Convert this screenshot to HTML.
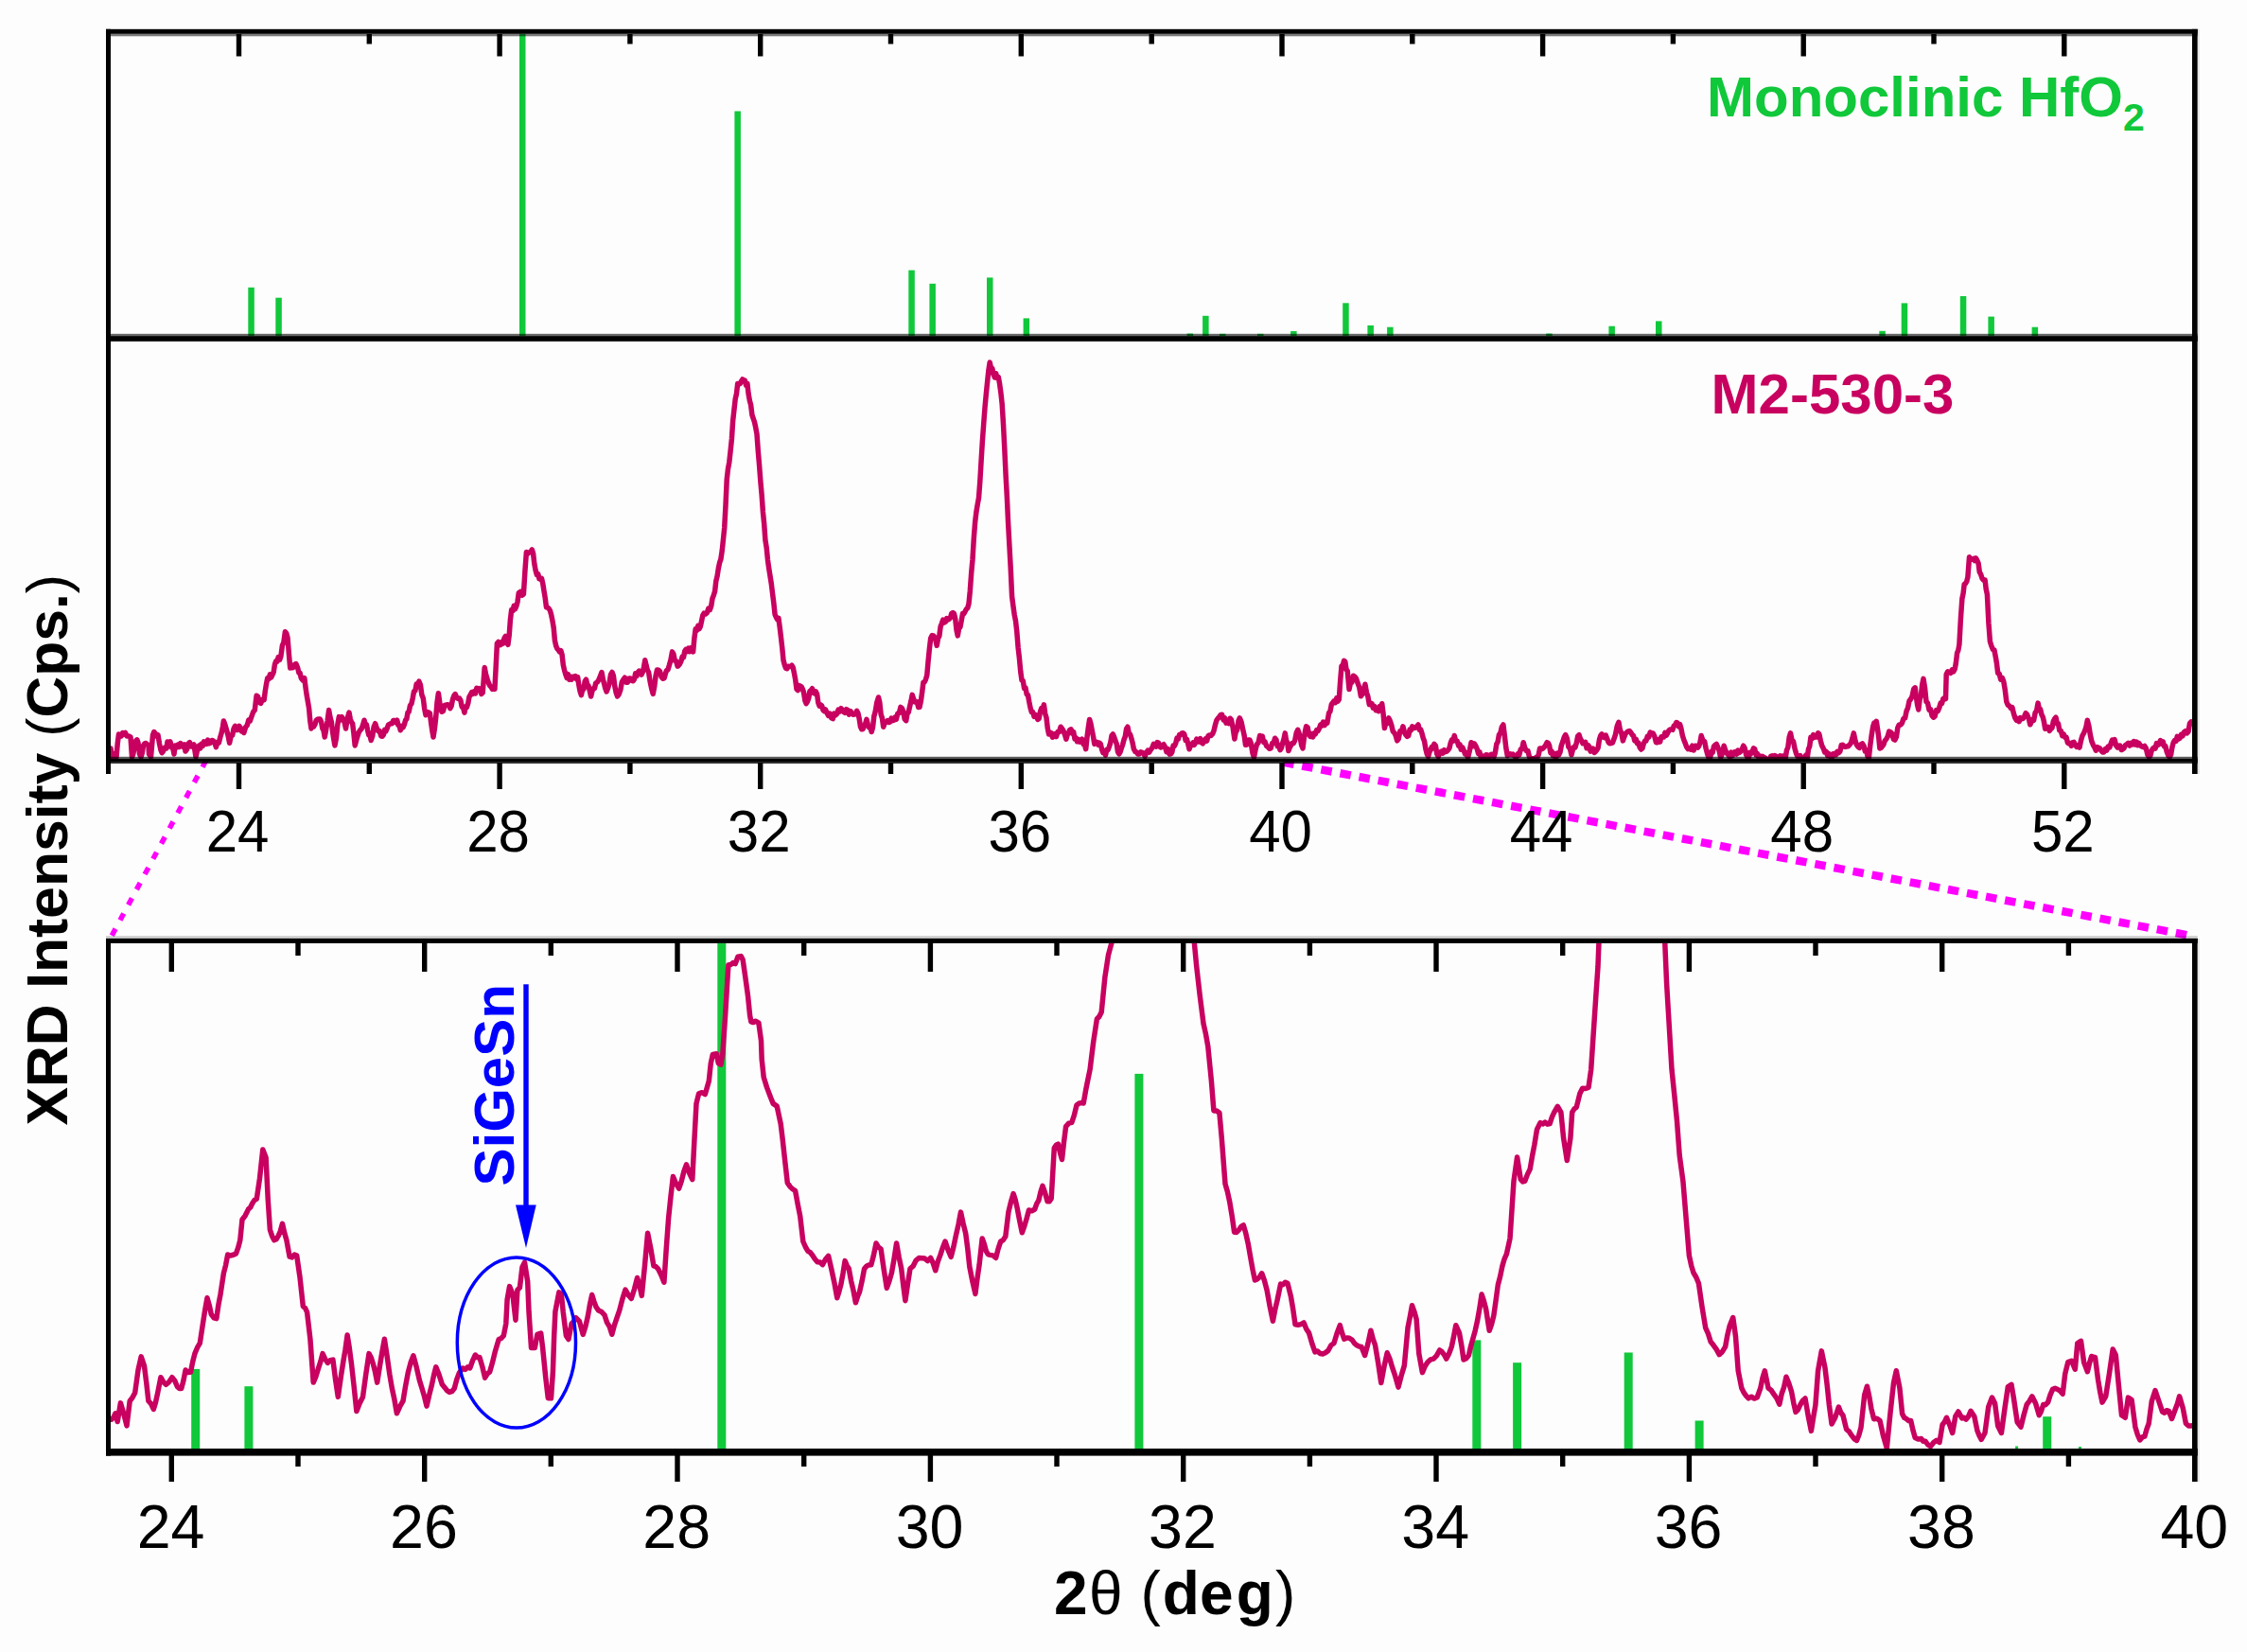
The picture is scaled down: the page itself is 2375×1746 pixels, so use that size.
<!DOCTYPE html><html><head><meta charset="utf-8"><style>html,body{margin:0;padding:0;background:#fdfdfd;overflow:hidden;}svg{display:block}</style></head><body>
<svg width="2375" height="1746" viewBox="0 0 2375 1746">
<rect width="2375" height="1746" fill="#fdfdfd"/>
<defs>
<clipPath id="cTop"><rect x="117" y="35.8" width="2200" height="319.3"/></clipPath>
<clipPath id="cMid"><rect x="117" y="360" width="2200" height="445"/></clipPath>
<clipPath id="cBot"><rect x="117" y="997" width="2200" height="534"/></clipPath>
</defs>
<g clip-path="url(#cTop)">
<rect x="262.3" y="303.8" width="6.5" height="52.2" fill="#10c83a"/>
<rect x="291.3" y="314.7" width="6.5" height="41.3" fill="#10c83a"/>
<rect x="549.0" y="24.0" width="6.5" height="332.0" fill="#10c83a"/>
<rect x="776.4" y="117.5" width="6.5" height="238.5" fill="#10c83a"/>
<rect x="960.3" y="285.6" width="6.5" height="70.4" fill="#10c83a"/>
<rect x="982.4" y="299.8" width="6.5" height="56.2" fill="#10c83a"/>
<rect x="1043.0" y="293.4" width="6.5" height="62.6" fill="#10c83a"/>
<rect x="1081.6" y="336.4" width="6.5" height="19.6" fill="#10c83a"/>
<rect x="1254.6" y="352.5" width="6.5" height="3.5" fill="#10c83a"/>
<rect x="1271.1" y="333.8" width="6.5" height="22.2" fill="#10c83a"/>
<rect x="1289.0" y="352.8" width="6.5" height="3.2" fill="#10c83a"/>
<rect x="1329.0" y="352.8" width="6.5" height="3.2" fill="#10c83a"/>
<rect x="1364.1" y="350.0" width="6.5" height="6.0" fill="#10c83a"/>
<rect x="1419.2" y="320.3" width="6.5" height="35.7" fill="#10c83a"/>
<rect x="1445.4" y="343.9" width="6.5" height="12.1" fill="#10c83a"/>
<rect x="1466.1" y="345.7" width="6.5" height="10.3" fill="#10c83a"/>
<rect x="1634.2" y="352.5" width="6.5" height="3.5" fill="#10c83a"/>
<rect x="1700.4" y="344.7" width="6.5" height="11.3" fill="#10c83a"/>
<rect x="1750.0" y="339.4" width="6.5" height="16.6" fill="#10c83a"/>
<rect x="1986.3" y="349.8" width="6.5" height="6.2" fill="#10c83a"/>
<rect x="2009.7" y="320.4" width="6.5" height="35.6" fill="#10c83a"/>
<rect x="2071.8" y="313.0" width="6.5" height="43.0" fill="#10c83a"/>
<rect x="2101.4" y="334.6" width="6.5" height="21.4" fill="#10c83a"/>
<rect x="2147.6" y="345.7" width="6.5" height="10.3" fill="#10c83a"/>
</g>
<g clip-path="url(#cBot)">
<rect x="202.2" y="1446.9" width="9.0" height="86.1" fill="#10c83a"/>
<rect x="258.4" y="1465.2" width="9.0" height="67.8" fill="#10c83a"/>
<rect x="758.3" y="978.2" width="9.0" height="554.8" fill="#10c83a"/>
<rect x="1199.4" y="1134.9" width="9.0" height="398.1" fill="#10c83a"/>
<rect x="1556.3" y="1416.4" width="9.0" height="116.6" fill="#10c83a"/>
<rect x="1599.1" y="1440.2" width="9.0" height="92.8" fill="#10c83a"/>
<rect x="1716.7" y="1429.5" width="9.0" height="103.5" fill="#10c83a"/>
<rect x="1791.6" y="1501.5" width="9.0" height="31.5" fill="#10c83a"/>
<rect x="2130.1" y="1528.5" width="3.0" height="4.5" fill="#10c83a"/>
<rect x="2159.2" y="1497.2" width="9.0" height="35.8" fill="#10c83a"/>
<rect x="2196.9" y="1529.0" width="3.0" height="4.0" fill="#10c83a"/>
</g>
<g clip-path="url(#cMid)"><polyline points="117.0,791.0 118.5,800.0 119.8,796.5 121.0,797.0 123.0,800.0 124.2,786.4 125.5,776.0 126.9,778.3 128.2,778.1 129.6,774.6 131.0,776.0 132.5,774.5 134.0,778.0 136.0,778.0 138.0,779.0 139.5,800.0 140.8,796.9 142.0,790.0 143.5,783.0 144.8,781.8 146.0,785.0 147.5,797.0 149.0,800.0 150.2,796.2 151.5,788.0 152.9,785.9 154.2,785.5 155.6,786.7 157.0,788.0 157.5,797.0 159.5,800.0 161.5,777.0 162.8,773.5 164.0,775.0 165.5,778.2 167.0,777.0 168.5,786.0 170.0,793.0 171.2,795.7 172.5,794.0 174.2,790.2 176.0,791.0 177.0,784.0 178.5,786.0 180.0,784.0 181.3,789.9 182.7,790.4 184.0,797.0 185.0,788.0 186.5,790.0 188.0,787.0 189.4,789.4 190.8,785.5 192.2,788.5 193.6,789.5 195.0,787.0 196.0,794.0 197.5,792.0 199.0,786.0 200.5,784.6 202.0,788.9 203.5,788.8 205.0,787.0 207.0,800.0 209.0,791.0 210.3,788.1 211.6,790.9 212.9,786.3 214.2,788.5 215.5,783.9 216.8,785.2 218.2,786.4 219.6,782.2 221.1,785.8 222.5,785.2 223.9,782.5 225.4,782.9 226.9,784.9 228.4,789.6 229.9,784.2 231.3,785.1 232.8,779.0 234.0,775.2 235.2,769.8 236.4,762.0 237.9,766.0 239.5,771.6 241.1,777.5 242.6,785.2 244.1,778.2 245.6,777.1 247.1,770.0 248.5,767.3 249.9,771.6 251.4,771.4 252.8,767.4 254.2,769.2 255.4,772.9 256.6,770.4 257.8,774.5 259.6,768.5 261.3,766.5 262.8,761.1 264.3,761.9 265.8,757.6 267.6,752.6 269.3,750.5 271.1,735.3 272.6,736.1 274.1,742.3 275.6,743.4 277.4,739.3 279.1,739.8 280.3,730.4 281.5,722.9 282.7,716.7 284.0,717.8 285.4,712.7 286.7,715.9 288.0,713.1 289.2,710.3 290.4,702.3 291.6,698.9 292.9,699.3 294.2,694.6 295.6,697.3 296.9,693.5 298.4,682.3 299.9,678.7 301.4,667.7 302.7,669.2 304.0,673.9 305.4,691.4 306.7,706.0 308.2,702.9 309.7,705.6 311.2,702.4 312.9,701.6 314.7,706.0 315.9,711.2 317.1,711.3 318.3,716.7 320.1,718.9 321.8,716.7 323.0,726.4 324.2,734.8 325.4,741.6 326.6,748.6 327.8,761.9 329.0,770.0 330.3,766.1 331.6,767.9 333.0,765.4 334.3,761.2 335.6,760.3 337.0,760.0 338.3,760.0 339.6,763.0 340.8,769.9 342.0,771.9 343.2,779.0 344.7,770.9 346.1,762.1 347.6,750.5 349.0,758.2 350.3,763.0 351.5,773.0 352.7,780.9 353.9,787.9 355.4,780.3 356.8,766.2 358.3,757.6 359.8,760.9 361.3,757.7 362.8,760.3 364.1,763.5 365.5,770.0 367.2,759.2 369.0,753.1 370.2,759.5 371.4,763.1 372.6,764.7 373.9,774.9 375.2,787.9 376.6,782.5 377.9,778.3 379.2,774.2 380.6,771.8 382.1,770.3 383.5,766.5 385.0,761.2 386.2,766.2 387.4,765.8 388.6,771.8 389.8,776.8 391.0,777.2 392.2,782.5 393.7,778.0 395.1,768.3 396.6,764.7 398.2,769.5 399.7,772.7 401.2,772.6 402.8,778.0 404.1,778.2 405.3,776.8 406.6,771.3 407.8,773.0 409.1,770.0 410.4,766.3 411.8,765.3 413.1,764.6 414.4,764.7 415.7,761.5 417.0,761.4 418.4,763.6 419.7,761.2 420.9,766.3 422.1,766.8 423.3,771.8 424.6,767.3 426.0,768.8 427.3,765.9 428.6,761.2 429.8,759.9 431.0,753.1 432.2,752.3 433.5,745.6 434.9,743.8 436.2,738.1 437.5,730.9 438.9,730.0 440.2,723.1 441.5,724.3 442.9,720.2 444.4,723.8 445.8,734.2 447.3,738.0 448.6,748.4 450.0,755.8 451.5,753.5 452.9,752.8 454.4,754.0 455.6,763.7 456.8,772.1 458.0,779.0 459.4,769.9 460.7,758.4 462.0,742.5 463.4,732.7 465.1,744.8 466.9,752.3 468.4,751.5 469.9,745.5 471.4,745.1 472.9,744.7 474.3,745.1 475.8,748.7 477.1,746.3 478.5,738.9 479.9,735.2 481.2,733.6 482.7,737.3 484.1,738.5 485.6,738.0 486.9,740.3 488.2,747.0 489.6,747.8 490.9,753.1 492.2,746.8 493.4,747.4 494.7,743.4 495.9,736.7 497.2,734.5 498.6,731.6 500.0,733.4 501.3,730.6 502.6,732.8 503.8,727.3 505.1,728.3 506.4,727.6 507.6,728.0 508.9,733.5 510.2,732.1 512.2,705.4 513.6,712.9 515.1,717.8 516.5,722.0 517.8,724.8 519.1,725.9 520.3,728.3 521.6,725.7 522.9,728.3 524.1,706.2 525.4,680.0 526.7,678.5 528.0,681.8 529.2,681.5 530.5,678.4 531.8,680.0 533.0,674.7 534.3,672.4 535.6,678.8 536.9,681.3 538.2,671.5 539.4,655.1 540.7,644.4 542.0,645.6 543.2,640.3 544.5,643.6 545.8,640.6 547.0,636.2 548.3,626.6 549.6,625.6 550.8,625.0 552.1,629.1 553.4,627.9 554.9,603.9 556.4,583.4 557.9,585.2 559.3,583.7 560.8,583.6 562.3,580.9 563.6,585.1 564.8,595.8 566.1,602.8 567.4,607.6 568.7,606.6 570.0,611.7 571.2,612.2 572.5,611.4 573.8,617.0 575.0,624.7 576.2,631.9 577.5,641.9 578.8,642.2 580.0,643.2 581.3,645.0 582.6,649.5 583.9,655.9 585.2,663.5 586.4,676.8 587.7,682.6 589.0,685.7 590.2,687.0 591.5,688.9 592.8,687.6 594.1,692.1 595.3,702.8 596.6,708.4 597.9,713.1 599.2,716.4 600.4,712.6 601.7,718.2 602.9,715.1 604.2,718.2 605.5,715.3 606.8,715.6 608.0,714.6 609.3,717.8 610.6,715.6 611.9,724.3 613.1,730.7 614.4,734.7 615.7,728.6 617.0,728.3 618.2,720.0 619.5,718.2 620.8,724.2 622.0,724.6 623.3,730.1 624.6,736.0 625.9,730.5 627.2,727.6 628.4,727.5 629.7,722.0 631.3,721.0 632.9,718.5 634.4,714.7 636.0,710.5 637.3,717.8 638.5,722.4 639.8,727.5 641.1,730.9 642.6,727.2 644.0,722.5 645.5,713.0 647.0,710.5 648.4,714.3 649.8,725.3 651.2,732.1 652.6,736.0 654.2,733.8 655.8,729.2 657.3,720.9 658.9,718.2 660.4,716.2 661.9,721.2 663.3,721.2 664.8,717.1 666.3,717.1 667.8,719.4 669.1,719.7 670.4,718.1 671.6,711.9 672.9,714.6 674.2,710.5 675.5,709.1 676.7,710.5 678.0,713.1 679.3,710.3 680.5,705.3 681.8,697.8 683.1,703.5 684.3,708.2 685.6,710.5 687.1,720.1 688.7,727.7 690.2,733.4 691.6,726.3 693.1,714.3 694.5,708.0 696.0,708.3 697.5,709.4 699.1,715.5 700.6,717.2 702.1,716.9 703.4,711.9 704.6,708.5 705.9,708.0 707.4,703.0 709.0,697.2 710.5,688.9 711.9,691.2 713.3,698.3 714.7,698.6 716.1,704.2 717.4,703.2 718.7,701.5 719.9,698.8 721.2,694.0 722.5,694.8 723.8,688.0 725.0,686.3 726.3,688.6 727.6,685.1 728.9,688.6 730.1,684.7 731.4,686.6 732.6,688.9 733.9,674.4 735.2,664.8 736.5,666.2 737.8,661.4 739.0,664.7 740.3,662.2 741.6,656.1 742.8,650.4 744.1,648.2 745.7,649.0 747.2,647.9 748.8,643.1 750.4,644.4 751.7,640.7 753.0,632.5 754.3,629.2 755.6,624.9 756.8,614.2 758.1,608.8 759.4,600.4 760.6,594.7 761.9,591.0 763.2,582.2 764.4,570.7 765.7,558.0 767.0,534.0 768.2,507.1 769.5,495.5 770.8,488.4 772.1,476.6 773.4,464.0 774.6,445.2 775.9,433.4 777.2,421.7 778.4,416.7 779.7,405.4 781.0,406.1 782.2,405.5 783.5,402.9 784.8,400.9 786.1,402.5 787.3,402.0 788.6,407.4 789.9,405.4 791.1,416.2 792.4,423.5 793.6,427.9 794.9,438.5 796.2,442.3 797.5,446.2 798.7,451.7 800.0,458.8 801.3,476.8 802.6,491.9 803.9,509.3 805.1,522.4 806.4,541.0 807.6,552.6 808.9,570.7 810.2,578.9 811.5,592.1 812.7,600.7 814.0,608.8 815.3,617.0 816.5,626.9 817.8,637.2 819.1,649.5 820.4,652.5 821.6,654.6 822.9,653.3 824.2,662.8 825.5,673.8 826.7,684.2 828.0,697.8 829.3,702.8 830.5,706.2 831.8,706.7 833.1,704.2 834.4,704.6 835.6,704.4 836.9,703.2 838.2,705.4 839.5,711.7 840.7,718.2 842.0,728.3 843.3,729.6 844.5,724.5 845.8,725.0 847.1,725.8 848.4,728.4 849.6,732.2 850.9,740.5 852.1,743.6 853.4,741.5 854.7,738.0 855.9,730.7 857.2,729.6 858.5,727.7 859.8,732.5 861.0,732.9 862.3,730.9 863.6,733.6 864.8,742.5 866.1,746.1 867.4,744.9 868.7,745.9 869.9,750.3 871.2,751.7 872.5,749.9 874.1,753.6 875.6,756.3 877.2,754.1 878.8,758.8 880.3,759.6 881.7,754.1 883.2,755.9 884.6,754.5 886.1,750.2 887.5,752.0 889.0,748.7 890.0,750.0 891.5,752.3 893.0,753.4 894.5,749.7 895.9,750.5 897.4,755.1 898.9,751.5 900.4,753.9 901.7,755.2 903.0,755.1 904.3,754.3 905.6,751.3 906.9,753.7 908.2,759.6 909.5,768.0 910.8,770.8 912.1,770.5 913.4,767.4 914.7,764.8 916.0,760.4 917.3,765.7 918.6,768.9 919.9,768.8 921.2,773.4 922.5,768.7 923.8,757.1 925.1,752.6 926.8,742.5 928.5,737.0 929.8,742.4 931.1,754.8 932.4,758.8 933.7,768.2 935.1,764.3 936.5,763.0 937.9,761.7 939.3,763.5 940.7,763.1 942.1,759.1 943.4,761.6 944.7,761.3 946.0,758.0 947.3,760.4 948.8,754.2 950.4,753.7 951.9,747.4 953.4,748.6 954.8,752.2 956.2,760.0 957.7,761.7 959.0,754.0 960.3,752.7 961.6,746.7 962.9,741.2 964.2,734.4 965.5,738.3 966.8,741.8 968.1,742.2 969.4,741.9 970.7,747.6 972.0,747.4 973.3,741.3 974.6,732.0 975.9,721.4 977.2,720.9 978.5,718.1 979.8,713.6 981.1,698.6 982.4,685.5 983.7,674.5 985.2,671.6 986.8,671.9 988.5,674.5 990.2,682.3 991.5,674.7 992.8,672.3 994.1,662.3 995.4,658.9 996.7,655.2 998.0,657.9 999.3,657.3 1000.6,653.7 1001.9,655.0 1003.2,654.3 1004.5,653.0 1005.8,648.3 1007.1,647.5 1008.4,648.5 1009.7,653.7 1011.0,665.9 1012.3,671.9 1013.6,664.0 1014.9,662.7 1016.2,656.0 1017.5,648.5 1018.8,648.7 1020.1,646.2 1021.4,643.8 1022.7,642.7 1024.0,638.1 1025.3,624.7 1026.7,605.4 1028.0,591.2 1029.3,569.1 1030.6,552.2 1031.9,541.3 1033.2,533.2 1034.5,526.2 1035.8,509.0 1037.1,487.1 1038.4,465.8 1039.7,448.1 1041.0,430.9 1042.3,416.7 1043.6,403.8 1044.9,391.4 1046.2,383.0 1047.5,389.1 1048.8,389.4 1050.1,396.0 1051.4,399.0 1052.7,394.7 1054.0,399.5 1055.3,398.6 1056.6,405.8 1057.9,415.3 1059.2,427.3 1060.5,448.5 1061.8,474.1 1063.1,502.3 1064.4,526.2 1065.7,554.7 1067.0,578.2 1068.3,602.2 1069.6,630.3 1070.9,640.4 1072.2,649.7 1073.5,656.3 1074.8,667.8 1076.1,684.2 1077.4,695.4 1078.7,709.5 1080.0,718.8 1081.3,719.6 1082.6,727.5 1083.9,726.8 1085.2,733.8 1086.5,734.4 1087.8,741.8 1089.1,748.2 1090.4,752.6 1091.7,752.6 1093.0,757.4 1094.3,755.4 1095.6,757.2 1096.9,760.4 1098.2,759.3 1099.5,752.2 1100.8,748.5 1102.1,749.6 1103.4,744.8 1104.7,754.2 1106.0,758.5 1107.3,769.8 1108.6,776.0 1109.9,774.3 1111.2,774.6 1112.5,779.3 1113.8,775.8 1115.1,776.0 1116.4,778.6 1118.0,773.4 1119.5,773.6 1121.1,768.2 1122.5,770.0 1124.0,772.5 1125.5,776.5 1126.9,781.2 1128.2,776.6 1129.5,774.4 1130.8,771.4 1132.1,770.8 1133.4,775.2 1134.7,773.7 1136.0,781.0 1137.3,779.8 1138.6,783.8 1139.9,781.5 1141.2,784.1 1142.5,783.2 1143.8,781.2 1145.1,786.5 1146.4,786.6 1147.7,791.7 1149.0,779.1 1150.3,769.1 1151.6,760.4 1152.9,764.7 1154.2,771.7 1155.5,778.2 1156.8,786.4 1158.1,784.3 1159.4,784.3 1160.7,787.2 1162.0,785.1 1163.3,786.3 1164.6,792.0 1165.9,795.4 1167.2,793.7 1168.5,798.1 1169.8,792.3 1171.1,792.6 1172.4,789.1 1173.7,785.1 1175.0,777.6 1176.3,776.0 1177.6,778.8 1178.9,782.8 1180.2,786.0 1181.5,794.6 1182.8,796.8 1184.1,794.7 1185.4,790.5 1186.7,786.8 1188.0,781.8 1189.3,778.4 1190.6,770.2 1191.9,768.2 1193.2,775.1 1194.5,776.2 1195.8,780.1 1197.1,785.1 1198.4,791.7 1199.9,794.4 1201.4,795.1 1202.8,797.0 1204.3,797.0 1205.8,794.9 1207.2,795.5 1208.7,795.9 1210.2,799.4 1211.7,795.4 1213.2,793.2 1214.8,795.0 1216.3,792.4 1217.8,790.4 1219.3,786.4 1220.6,788.0 1221.9,789.1 1223.2,784.6 1224.5,785.1 1225.8,789.3 1227.1,789.9 1228.4,787.7 1229.9,786.7 1231.4,789.3 1233.0,794.7 1234.5,791.5 1236.0,797.1 1237.5,796.8 1238.8,795.1 1240.1,788.0 1241.4,788.5 1242.7,785.6 1244.0,780.0 1245.3,781.2 1246.6,776.5 1247.9,776.6 1249.2,774.9 1250.5,774.7 1251.8,776.0 1253.1,782.4 1254.4,781.3 1255.7,785.9 1257.0,791.7 1258.3,788.2 1259.6,786.4 1260.9,785.0 1262.2,787.3 1263.5,785.1 1264.8,781.2 1266.1,783.9 1267.4,784.0 1268.7,780.6 1270.0,784.9 1271.3,785.9 1272.6,783.8 1274.1,781.0 1275.6,783.1 1277.0,777.9 1278.5,776.9 1280.0,777.5 1281.5,775.8 1283.0,772.3 1284.5,766.0 1285.9,761.3 1287.3,759.2 1288.8,757.7 1290.2,755.4 1291.6,755.3 1293.1,760.9 1294.5,758.7 1296.0,764.2 1297.3,761.1 1298.7,764.6 1300.1,759.2 1301.4,760.6 1303.2,769.3 1304.9,781.1 1306.2,773.6 1307.6,771.6 1309.0,761.9 1310.3,758.9 1312.0,762.9 1313.8,771.3 1315.2,777.7 1316.5,787.3 1318.0,787.0 1319.4,782.0 1320.9,782.0 1322.4,786.0 1323.9,795.7 1325.4,800.5 1327.0,792.4 1328.5,786.5 1330.0,785.2 1331.6,777.5 1332.9,780.6 1334.3,778.1 1335.7,784.5 1337.0,783.8 1338.5,788.2 1340.1,789.4 1341.7,791.3 1343.2,790.9 1344.7,785.4 1346.1,785.5 1347.6,780.2 1348.9,781.7 1350.3,788.8 1351.7,787.3 1353.0,792.7 1354.3,790.8 1355.7,785.4 1357.0,781.1 1358.3,774.9 1359.5,782.5 1360.7,784.8 1361.9,793.6 1363.2,790.0 1364.6,787.6 1365.9,785.5 1367.2,785.6 1368.7,782.6 1370.2,774.7 1371.7,771.3 1373.0,774.7 1374.3,779.8 1375.7,787.8 1377.0,790.9 1378.2,781.1 1379.4,773.3 1380.6,767.8 1382.1,768.8 1383.5,776.3 1385.0,778.4 1386.3,775.6 1387.7,778.9 1389.1,774.9 1390.4,775.8 1391.7,771.6 1393.1,772.3 1394.4,770.0 1395.7,766.0 1397.1,767.0 1398.5,763.2 1400.0,766.6 1401.4,763.2 1402.8,764.2 1404.6,753.5 1405.9,751.9 1407.3,744.7 1408.7,742.7 1410.0,741.0 1411.3,742.7 1412.7,737.9 1414.0,741.2 1415.3,739.3 1416.7,719.1 1418.0,703.7 1419.3,703.2 1420.6,698.3 1421.8,699.5 1423.0,707.7 1424.2,709.0 1426.0,728.6 1427.5,721.5 1428.9,721.2 1430.4,714.3 1431.9,715.1 1433.4,716.9 1434.9,721.5 1436.7,726.2 1438.4,735.7 1439.9,733.8 1441.4,729.2 1442.9,723.2 1444.4,731.8 1445.8,735.9 1447.3,744.6 1448.7,743.2 1450.0,743.6 1451.3,748.3 1452.7,746.4 1454.2,750.6 1455.6,748.5 1457.1,751.7 1458.3,746.6 1459.5,747.9 1460.7,743.7 1462.1,754.5 1463.4,769.5 1464.9,763.6 1466.3,764.4 1467.8,758.9 1469.3,762.0 1470.8,766.6 1472.3,773.1 1473.8,774.5 1475.2,777.2 1476.7,782.9 1478.2,781.0 1479.8,772.8 1481.4,773.0 1482.9,767.8 1484.4,773.7 1485.9,776.7 1487.4,778.4 1488.7,777.7 1490.1,771.1 1491.4,771.8 1492.7,767.8 1494.3,769.4 1495.8,769.2 1497.4,767.8 1499.0,766.0 1500.3,771.4 1501.7,771.1 1503.0,775.3 1504.3,780.2 1505.6,783.6 1506.9,791.6 1508.3,797.0 1509.6,799.6 1510.9,794.8 1512.1,792.4 1513.4,789.3 1514.6,790.8 1515.9,786.4 1517.4,788.3 1518.8,797.0 1520.3,799.6 1521.8,795.4 1523.4,794.1 1525.0,796.1 1526.5,792.7 1527.8,794.6 1529.2,794.2 1530.6,792.7 1531.9,790.9 1533.2,785.3 1534.6,781.8 1535.9,783.1 1537.2,777.5 1538.7,783.1 1540.2,783.2 1541.7,788.2 1543.0,786.8 1544.3,792.3 1545.7,789.9 1547.0,792.7 1548.5,796.9 1550.0,796.2 1551.5,800.5 1553.2,794.0 1555.0,784.7 1556.6,788.8 1558.2,785.9 1559.7,788.0 1561.3,791.8 1562.6,796.5 1563.9,794.8 1565.3,800.7 1566.6,800.5 1568.0,799.1 1569.4,802.1 1570.8,797.7 1572.2,797.9 1573.5,801.5 1574.9,798.3 1576.3,797.2 1577.7,797.5 1579.1,799.6 1580.4,795.4 1581.8,786.4 1583.1,784.2 1584.4,776.7 1585.9,774.7 1587.4,768.2 1588.9,766.0 1590.4,778.2 1591.8,790.3 1593.3,798.7 1594.7,797.4 1596.1,796.7 1597.6,797.4 1599.0,797.1 1600.4,798.7 1601.8,800.1 1603.1,800.0 1604.5,796.5 1605.8,797.8 1607.3,791.9 1608.7,791.6 1610.2,784.7 1611.8,790.5 1613.3,793.5 1614.9,793.4 1616.4,799.6 1617.8,802.2 1619.3,801.7 1620.7,801.7 1622.2,802.9 1623.6,800.5 1624.9,800.2 1626.2,797.8 1627.6,790.9 1628.9,790.9 1630.5,791.4 1632.0,789.9 1633.5,787.9 1635.1,784.7 1636.4,785.4 1637.6,788.0 1638.9,795.6 1640.1,793.9 1641.4,798.7 1643.0,796.3 1644.5,800.5 1646.0,796.2 1647.6,797.8 1649.0,795.0 1650.4,787.6 1651.9,783.5 1653.3,779.2 1654.7,776.7 1656.3,780.3 1657.8,789.3 1659.4,791.0 1661.0,797.8 1662.3,792.6 1663.7,789.3 1665.0,789.8 1666.3,785.3 1667.7,777.9 1669.0,776.7 1670.3,780.6 1671.7,783.0 1673.0,785.7 1674.3,785.6 1675.7,784.4 1677.0,790.8 1678.4,787.5 1679.8,789.3 1681.1,794.1 1682.5,793.6 1683.8,791.1 1685.2,795.4 1686.5,794.2 1687.8,792.7 1689.1,790.4 1690.4,782.1 1691.8,777.4 1693.1,775.8 1694.4,778.9 1695.8,779.7 1697.2,777.0 1698.5,780.2 1700.0,784.4 1701.4,785.7 1702.9,785.6 1704.4,784.9 1705.9,781.1 1707.4,776.7 1709.2,767.6 1710.9,763.3 1712.4,771.7 1713.9,775.0 1715.4,782.9 1716.7,779.0 1718.1,775.4 1719.4,774.0 1720.7,773.1 1722.2,772.5 1723.7,774.1 1725.2,776.7 1726.5,777.6 1727.8,782.9 1729.2,781.3 1730.5,785.6 1731.8,785.0 1733.2,789.9 1734.6,792.0 1735.9,790.9 1737.2,786.2 1738.6,783.0 1739.9,782.9 1741.2,778.4 1742.7,779.1 1744.2,774.0 1745.7,774.9 1747.2,775.1 1748.8,778.2 1750.4,784.7 1751.9,784.7 1753.2,781.7 1754.6,784.0 1755.9,778.6 1757.2,778.4 1758.5,779.0 1759.9,774.4 1761.2,777.2 1762.6,774.9 1763.9,772.1 1765.2,770.9 1766.6,770.8 1767.9,771.3 1769.2,767.3 1770.6,766.3 1771.9,763.5 1773.2,764.2 1774.4,768.0 1775.6,765.5 1776.8,769.5 1778.3,777.2 1779.8,782.0 1781.3,785.6 1782.8,789.7 1784.2,791.6 1785.7,790.9 1787.2,792.2 1788.7,788.2 1790.2,792.9 1791.6,788.2 1793.1,788.5 1794.6,790.0 1795.8,788.3 1797.0,784.2 1798.2,777.5 1800.0,782.9 1801.7,783.8 1803.2,791.4 1804.7,797.0 1806.2,801.0 1807.5,801.1 1808.9,794.4 1810.2,795.2 1811.5,788.8 1812.9,787.3 1814.2,786.4 1815.7,789.6 1817.1,793.4 1818.6,800.5 1819.8,798.0 1821.0,793.8 1822.2,788.2 1823.7,793.1 1825.2,796.1 1826.7,797.8 1828.2,800.1 1829.7,795.1 1831.2,798.8 1832.6,795.3 1834.1,794.6 1835.6,797.0 1837.0,793.1 1838.4,795.4 1839.9,794.1 1841.3,791.7 1842.7,788.2 1844.2,790.8 1845.6,797.7 1847.1,800.5 1848.4,801.0 1849.6,795.3 1850.9,796.5 1852.1,794.4 1853.4,790.9 1854.7,791.7 1856.1,797.9 1857.4,796.5 1858.7,800.5 1860.1,799.0 1861.5,802.2 1863.0,799.4 1864.4,803.3 1865.8,801.0 1867.3,803.1 1868.8,802.5 1870.2,802.6 1871.7,799.3 1873.2,798.7 1874.7,801.0 1876.1,798.7 1877.5,799.5 1878.9,802.5 1880.3,802.4 1881.6,798.8 1883.0,799.6 1884.4,798.9 1885.8,799.0 1887.2,801.0 1888.5,792.9 1889.8,790.0 1891.2,779.0 1892.5,774.9 1894.0,782.3 1895.5,783.6 1897.0,790.9 1898.5,796.3 1899.9,799.4 1901.4,800.5 1902.9,798.6 1904.4,802.9 1905.8,801.9 1907.3,801.8 1908.8,798.0 1910.3,800.5 1911.5,791.7 1912.7,788.8 1913.9,779.3 1915.2,780.7 1916.6,776.7 1917.9,779.3 1919.2,777.5 1920.4,778.8 1921.6,774.7 1922.8,775.8 1924.3,782.9 1925.7,788.0 1927.2,790.9 1928.7,795.0 1930.2,794.3 1931.7,798.7 1933.2,796.7 1934.7,799.9 1936.2,800.8 1937.6,796.8 1939.1,796.5 1940.6,797.8 1942.0,794.3 1943.4,795.6 1944.9,794.0 1946.3,787.4 1947.7,787.3 1949.1,789.1 1950.5,789.3 1952.0,788.8 1953.4,788.7 1954.8,787.3 1956.3,785.5 1957.8,780.6 1959.3,774.9 1960.8,782.0 1962.2,786.7 1963.7,789.1 1965.3,790.4 1966.8,786.8 1968.4,785.9 1970.0,788.2 1971.3,794.0 1972.7,792.6 1974.0,799.1 1975.3,801.0 1976.8,787.5 1978.2,777.0 1979.7,767.8 1980.9,764.0 1982.1,766.8 1983.3,762.4 1984.5,770.2 1985.7,778.8 1986.9,790.9 1988.2,790.4 1989.6,788.5 1990.9,786.8 1992.2,782.9 1993.7,781.2 1995.2,778.4 1996.7,773.1 1998.2,773.7 1999.8,775.4 2001.4,781.2 2002.9,782.0 2004.4,778.9 2005.8,769.2 2007.3,766.0 2008.9,766.1 2010.4,764.2 2012.0,759.3 2013.6,758.9 2015.1,751.5 2016.5,748.4 2018.0,741.0 2019.5,739.0 2021.1,735.9 2022.7,728.3 2024.2,726.8 2025.4,736.5 2026.6,744.8 2027.8,750.0 2029.1,739.5 2030.4,735.2 2031.7,723.5 2033.0,717.4 2034.5,726.9 2036.0,741.6 2037.5,743.0 2039.0,750.1 2040.6,749.8 2042.1,756.5 2043.6,758.2 2045.1,757.1 2046.6,750.6 2048.2,751.6 2049.7,748.1 2051.2,743.1 2052.5,743.5 2053.8,738.8 2055.2,737.4 2056.5,738.6 2057.2,712.8 2058.7,709.8 2060.3,710.4 2061.8,711.3 2063.3,707.9 2064.8,709.8 2066.3,706.8 2067.4,700.5 2068.6,690.1 2069.8,687.4 2070.9,681.1 2072.4,653.8 2073.9,632.6 2075.1,627.0 2076.2,617.5 2077.4,616.7 2078.7,614.6 2079.9,609.9 2081.5,588.8 2083.0,591.0 2084.5,591.3 2086.0,590.3 2087.3,592.6 2088.5,589.9 2089.8,592.5 2091.1,595.3 2092.3,604.7 2093.6,606.9 2095.1,611.5 2096.6,613.2 2098.1,613.0 2099.2,622.6 2100.4,628.1 2101.9,658.4 2103.4,678.0 2104.9,682.8 2106.4,686.4 2107.9,687.1 2109.2,693.7 2110.4,700.8 2111.7,711.3 2113.2,712.2 2114.8,718.3 2116.3,716.4 2117.8,720.4 2119.3,729.3 2120.8,741.6 2122.3,745.2 2123.9,746.2 2125.4,748.7 2126.9,747.7 2128.4,754.1 2129.9,758.9 2131.4,761.3 2132.7,759.6 2134.1,762.6 2135.4,758.6 2136.7,759.8 2138.2,759.6 2139.7,757.2 2141.2,753.7 2142.7,755.4 2144.3,759.4 2145.8,765.8 2147.1,762.9 2148.3,760.5 2149.6,761.3 2151.1,753.4 2152.6,751.2 2154.1,743.1 2155.4,749.7 2156.6,749.6 2157.9,755.2 2159.2,757.7 2160.4,762.7 2161.7,770.3 2163.2,768.8 2164.7,768.4 2166.2,772.4 2167.7,770.3 2169.0,769.3 2170.3,762.5 2171.7,759.6 2173.0,758.2 2174.3,764.8 2175.5,764.8 2176.8,771.9 2178.3,772.3 2179.8,777.7 2181.3,776.0 2182.8,779.4 2184.1,779.3 2185.4,785.0 2186.8,785.9 2188.1,785.5 2189.4,788.3 2190.8,784.7 2192.1,784.4 2193.4,787.0 2194.9,789.4 2196.5,787.6 2198.0,790.0 2199.5,782.6 2201.0,777.5 2202.5,774.9 2203.8,771.8 2205.0,768.0 2206.3,761.3 2207.8,767.0 2209.3,776.4 2210.8,783.4 2212.4,787.3 2213.9,790.0 2215.3,793.2 2216.6,789.6 2218.0,790.2 2219.3,790.8 2220.7,793.0 2222.2,794.9 2223.7,795.0 2225.2,791.5 2226.7,793.0 2228.2,789.1 2229.8,789.8 2231.3,785.5 2232.6,782.0 2233.8,785.4 2235.1,781.7 2236.6,787.9 2238.1,790.0 2239.5,788.2 2240.8,788.1 2242.2,792.5 2243.5,792.1 2244.9,790.8 2246.4,787.6 2247.9,786.8 2249.5,785.3 2251.0,788.0 2252.5,785.5 2253.9,786.8 2255.3,783.6 2256.7,786.9 2258.0,784.0 2259.4,787.6 2260.8,785.5 2262.3,787.9 2263.8,788.9 2265.3,789.6 2266.8,788.5 2268.3,790.8 2269.9,797.7 2271.4,800.1 2272.7,799.0 2274.1,793.6 2275.4,791.2 2276.7,790.0 2278.1,791.0 2279.4,785.6 2280.8,787.6 2282.1,786.0 2283.5,782.5 2284.8,786.1 2286.2,783.8 2287.5,788.9 2288.8,788.5 2290.3,794.8 2291.8,798.5 2293.3,800.1 2294.6,797.6 2295.9,789.7 2297.3,784.6 2298.6,782.5 2300.0,783.2 2301.3,778.3 2302.7,781.1 2304.0,780.2 2305.4,776.4 2306.9,777.9 2308.4,774.0 2310.0,772.7 2311.5,774.9 2313.0,773.4 2314.5,764.5 2316.0,762.8 2317.5,764.0 2319.0,762.7 2320.5,760.7 2322.0,758.0" fill="none" stroke="#c8005f" stroke-width="5.5" stroke-linejoin="round" stroke-linecap="round"/></g>
<g clip-path="url(#cBot)"><polyline points="112.0,1502.0 114.8,1500.3 117.6,1500.3 119.8,1498.4 122.0,1493.8 124.2,1502.5 127.4,1482.9 130.7,1493.8 134.0,1506.9 137.2,1480.7 139.9,1477.3 142.7,1472.0 146.0,1448.0 149.2,1433.9 152.5,1443.7 154.7,1461.0 156.9,1480.7 159.6,1483.6 162.3,1489.4 164.5,1482.1 166.7,1472.0 169.9,1455.7 172.7,1460.7 175.4,1463.3 178.7,1460.6 181.9,1455.7 184.7,1459.2 187.4,1465.5 189.6,1467.6 191.7,1467.6 193.9,1459.2 196.1,1448.0 198.8,1450.5 201.5,1450.2 203.7,1439.2 205.9,1430.6 208.6,1424.2 211.3,1419.7 214.6,1397.9 216.8,1383.9 219.0,1371.8 221.2,1379.4 223.3,1389.2 226.1,1392.9 228.8,1393.6 230.9,1379.0 233.1,1367.4 236.4,1345.6 238.6,1337.1 240.7,1326.0 243.6,1327.0 246.6,1326.3 249.5,1324.9 251.7,1318.7 253.8,1310.7 256.0,1289.0 259.2,1284.8 262.5,1278.1 264.7,1276.0 266.9,1271.5 269.1,1268.2 271.3,1267.2 274.5,1245.4 277.8,1214.9 281.1,1223.6 283.2,1267.2 285.4,1299.9 287.6,1306.4 289.8,1310.7 292.0,1309.8 294.1,1306.4 296.3,1301.3 298.5,1293.3 300.7,1303.0 302.9,1310.7 306.1,1328.2 308.6,1328.9 311.2,1326.0 313.7,1327.1 317.0,1350.0 320.3,1380.5 322.5,1382.3 324.6,1387.0 327.9,1415.3 331.2,1461.1 333.9,1454.8 336.6,1445.9 338.8,1439.2 341.0,1430.6 343.7,1436.5 346.4,1440.4 349.1,1437.6 351.9,1437.1 354.6,1458.2 357.3,1476.4 360.1,1456.5 362.8,1439.3 365.0,1426.4 367.1,1411.0 369.3,1424.8 371.5,1441.5 374.2,1465.8 376.9,1491.6 380.2,1483.0 383.5,1476.4 386.8,1452.2 390.0,1430.6 392.2,1434.7 394.4,1441.5 396.5,1449.9 398.7,1461.1 401.3,1444.5 403.8,1429.5 406.4,1415.3 409.1,1433.1 411.8,1452.4 414.3,1467.1 416.9,1479.2 419.4,1493.8 422.7,1486.5 426.0,1480.7 428.7,1464.4 431.4,1450.2 434.1,1440.1 436.9,1432.8 440.1,1444.5 443.4,1458.9 445.9,1467.0 448.5,1475.8 451.0,1486.2 453.8,1473.9 456.5,1463.3 458.6,1453.3 460.8,1444.8 464.1,1453.1 467.4,1463.3 470.0,1466.4 472.6,1469.7 475.1,1471.4 477.6,1470.7 480.2,1467.6 482.8,1457.9 485.3,1451.1 489.1,1446.0 491.6,1447.4 494.2,1444.9 496.7,1446.0 499.5,1438.2 502.4,1432.0 504.6,1434.7 506.9,1434.6 509.8,1444.3 512.6,1456.2 515.2,1451.9 517.7,1449.8 520.5,1440.1 523.4,1428.2 527.2,1415.5 529.8,1414.5 532.3,1411.7 534.8,1399.0 536.1,1373.6 538.6,1359.6 541.8,1367.2 545.0,1395.2 546.9,1363.4 549.4,1360.8 552.0,1339.2 554.5,1334.2 557.7,1354.5 559.0,1386.3 561.5,1424.4 565.3,1424.4 567.9,1410.4 571.7,1409.1 573.6,1424.4 576.8,1456.2 579.3,1477.8 582.5,1477.8 584.4,1449.8 585.7,1411.7 586.9,1386.3 590.8,1365.9 593.3,1367.2 595.2,1386.3 598.4,1411.7 600.9,1415.5 604.1,1399.0 606.4,1396.7 608.6,1392.6 612.4,1396.4 616.2,1410.4 618.8,1402.1 621.3,1391.4 623.5,1378.7 625.7,1368.5 627.9,1375.6 630.0,1381.2 632.7,1385.1 635.9,1386.6 639.0,1389.8 641.6,1397.9 644.2,1402.0 646.8,1410.3 649.4,1400.6 652.1,1392.6 654.7,1385.1 657.9,1372.9 661.0,1363.1 664.1,1368.7 667.3,1372.5 670.5,1362.5 673.6,1350.5 676.0,1359.1 678.3,1369.4 681.5,1337.4 684.6,1303.3 687.8,1319.5 690.9,1337.9 693.2,1338.6 695.6,1341.1 698.8,1347.4 701.9,1355.2 704.2,1320.5 706.6,1287.5 709.0,1264.4 711.4,1243.5 714.5,1250.9 717.6,1256.1 720.2,1248.6 722.9,1238.0 725.5,1230.9 728.6,1239.8 731.8,1246.6 733.9,1205.3 736.0,1166.4 738.6,1155.8 742.0,1154.7 745.3,1156.5 749.3,1142.5 751.3,1123.8 753.3,1114.5 757.3,1113.8 759.3,1123.8 761.9,1125.2 763.9,1113.2 766.6,1073.2 768.6,1039.9 769.9,1020.0 772.6,1019.3 774.9,1017.5 777.2,1018.6 779.9,1011.3 783.2,1010.6 785.2,1014.6 787.9,1033.3 790.6,1053.2 792.6,1073.2 793.9,1079.9 796.2,1080.6 798.5,1079.2 801.9,1081.2 804.5,1099.9 805.2,1119.8 807.2,1138.5 810.5,1149.1 814.5,1159.8 817.2,1166.4 821.2,1169.1 825.2,1187.8 827.2,1204.4 829.3,1223.5 832.3,1250.2 835.1,1254.2 837.8,1256.7 840.6,1258.5 843.2,1272.7 845.7,1285.2 848.8,1312.0 851.4,1318.0 854.0,1322.3 856.4,1323.7 858.8,1326.7 861.2,1330.5 863.9,1333.7 866.7,1333.9 869.4,1336.7 872.5,1331.0 875.6,1327.4 878.7,1340.8 881.8,1355.3 884.8,1371.7 886.8,1365.4 888.9,1357.3 891.0,1346.0 893.1,1332.6 895.2,1337.6 897.2,1340.8 899.6,1353.8 902.0,1363.9 904.4,1376.8 906.5,1370.3 908.5,1365.5 911.0,1354.4 913.6,1340.8 916.0,1338.2 918.4,1336.9 920.8,1336.7 923.4,1326.7 926.0,1314.0 928.5,1318.1 931.1,1320.2 934.2,1341.7 937.3,1361.4 939.9,1354.1 942.5,1344.9 945.0,1330.7 947.6,1314.0 950.2,1328.8 952.7,1340.8 954.8,1358.8 956.9,1374.7 959.5,1356.6 962.0,1340.8 965.1,1338.2 968.2,1332.1 971.3,1329.5 974.4,1329.7 977.4,1330.1 980.5,1332.6 983.6,1329.5 986.2,1334.8 988.8,1342.8 991.3,1333.3 993.9,1326.4 996.5,1318.4 999.0,1312.0 1002.1,1321.2 1005.2,1328.4 1007.8,1318.2 1010.4,1305.8 1013.0,1294.3 1015.5,1281.1 1018.1,1293.2 1020.7,1303.7 1022.8,1319.9 1024.8,1338.7 1027.8,1354.0 1030.9,1367.5 1033.0,1351.0 1035.1,1336.7 1038.2,1308.9 1040.2,1314.5 1042.3,1322.3 1044.3,1325.7 1046.4,1326.4 1049.5,1326.9 1052.6,1329.5 1055.2,1319.4 1057.7,1312.0 1060.2,1310.8 1062.8,1306.8 1065.9,1281.1 1068.5,1270.3 1071.1,1261.6 1073.2,1268.2 1075.2,1277.0 1077.8,1290.8 1080.3,1302.7 1082.7,1296.1 1085.1,1287.9 1087.5,1279.0 1090.6,1279.8 1093.7,1278.0 1095.8,1272.1 1097.8,1268.8 1099.9,1259.9 1102.0,1253.3 1104.5,1260.5 1107.1,1269.8 1109.2,1269.7 1111.2,1266.7 1114.3,1213.2 1116.3,1210.2 1118.4,1209.1 1120.5,1218.5 1122.5,1225.5 1124.5,1207.3 1126.6,1190.6 1129.7,1187.2 1132.8,1186.4 1135.4,1178.6 1138.0,1167.9 1140.4,1166.2 1142.8,1165.6 1145.2,1165.9 1147.5,1152.9 1149.8,1141.4 1152.1,1130.3 1155.7,1101.2 1159.4,1077.0 1161.8,1074.5 1164.2,1069.7 1167.8,1033.4 1171.5,1009.2 1175.1,995.9 1177.5,976.8 1180.0,960.0 1182.7,947.1 1185.4,936.1 1188.1,926.9 1190.9,913.0 1193.6,904.3 1196.3,892.5 1199.0,880.8 1201.7,867.4 1204.4,858.0 1207.1,846.7 1209.9,833.5 1212.6,823.9 1215.3,812.7 1218.0,800.0 1220.7,809.9 1223.3,822.8 1226.0,832.8 1228.7,843.8 1231.3,851.9 1234.0,865.1 1236.7,873.6 1239.3,886.1 1242.0,897.0 1244.7,907.9 1247.3,918.5 1250.0,926.9 1252.7,937.6 1255.3,948.0 1258.0,960.0 1260.2,977.0 1262.3,995.9 1264.7,1021.3 1268.3,1052.8 1272.0,1081.9 1274.4,1092.5 1276.8,1106.1 1280.4,1142.4 1282.9,1173.9 1285.9,1174.0 1288.9,1176.3 1291.3,1202.9 1295.0,1251.3 1297.4,1259.5 1299.8,1270.7 1302.2,1285.2 1304.6,1302.2 1307.0,1302.4 1309.5,1299.8 1311.9,1296.4 1314.3,1294.9 1316.8,1303.6 1319.2,1314.3 1321.6,1328.1 1324.0,1341.5 1326.4,1353.0 1328.8,1352.0 1331.3,1349.7 1333.7,1345.8 1336.4,1353.2 1339.1,1363.5 1342.2,1380.7 1345.4,1396.2 1347.7,1384.2 1350.0,1374.4 1353.6,1357.1 1356.0,1357.7 1358.5,1355.2 1360.9,1356.2 1364.5,1370.7 1366.8,1384.3 1369.0,1399.8 1372.0,1400.3 1375.1,1399.6 1378.1,1398.0 1380.8,1404.8 1383.6,1408.9 1386.8,1420.0 1389.9,1428.9 1392.6,1428.1 1395.3,1430.5 1398.1,1431.0 1400.8,1429.8 1403.8,1427.5 1406.9,1421.7 1409.9,1419.8 1413.1,1409.3 1416.3,1400.7 1418.5,1408.8 1420.8,1415.2 1423.5,1413.9 1426.2,1414.3 1429.0,1416.0 1431.7,1419.8 1434.1,1421.8 1436.6,1423.1 1439.0,1423.4 1442.6,1432.5 1445.8,1420.5 1448.9,1406.2 1451.2,1415.1 1453.5,1421.6 1456.7,1440.5 1459.8,1461.5 1463.0,1444.2 1466.2,1429.8 1468.9,1436.0 1471.6,1445.2 1474.8,1454.7 1478.0,1466.1 1481.2,1453.7 1484.3,1443.4 1488.0,1403.4 1490.2,1392.4 1492.5,1379.8 1494.8,1386.1 1497.1,1394.3 1499.8,1430.7 1503.4,1450.6 1506.2,1443.9 1508.9,1439.7 1512.1,1436.9 1515.2,1436.1 1518.4,1432.8 1521.6,1427.0 1524.0,1428.6 1526.4,1431.7 1528.8,1436.1 1531.5,1430.8 1534.3,1423.4 1536.5,1412.9 1538.8,1400.7 1542.5,1408.9 1544.8,1421.9 1547.0,1437.0 1549.7,1435.7 1552.4,1432.5 1554.7,1422.4 1557.0,1414.3 1559.2,1406.4 1561.5,1396.2 1563.8,1383.3 1566.1,1368.0 1568.3,1374.6 1570.6,1383.5 1574.2,1406.2 1576.5,1399.9 1578.8,1390.7 1581.0,1375.2 1583.3,1358.0 1585.6,1349.2 1587.9,1338.1 1590.2,1330.3 1592.4,1325.3 1596.0,1309.0 1600.0,1248.3 1603.6,1222.9 1607.3,1246.5 1609.5,1248.9 1611.8,1248.3 1614.5,1241.1 1617.2,1235.6 1619.5,1222.1 1621.8,1210.2 1624.5,1193.8 1628.1,1186.6 1630.6,1187.9 1633.1,1186.1 1635.6,1188.2 1638.1,1187.5 1640.4,1180.7 1642.7,1175.7 1646.3,1169.3 1649.9,1175.7 1652.6,1202.9 1656.3,1226.5 1659.9,1202.9 1661.7,1175.7 1664.0,1171.9 1666.3,1170.2 1669.9,1155.7 1672.6,1150.2 1675.8,1150.5 1679.0,1149.3 1681.7,1130.3 1683.5,1103.0 1685.3,1075.8 1687.1,1048.6 1689.0,1021.3 1689.9,997.7 1692.0,960.0 1694.8,947.6 1697.5,934.2 1700.2,919.1 1703.0,905.9 1705.8,892.0 1708.5,881.3 1711.2,865.8 1714.0,854.1 1716.8,839.1 1719.5,827.6 1722.2,812.1 1725.0,800.0 1727.8,814.3 1730.5,828.1 1733.2,838.9 1736.0,852.1 1738.8,865.8 1741.5,879.0 1744.2,894.2 1747.0,905.6 1749.8,921.4 1752.5,932.2 1755.2,947.8 1758.0,960.0 1759.8,997.7 1761.6,1039.5 1764.3,1084.9 1767.0,1130.3 1769.8,1157.5 1772.5,1184.7 1775.2,1221.1 1778.9,1248.3 1782.7,1294.5 1785.4,1327.2 1787.7,1337.7 1790.0,1345.3 1792.7,1349.7 1795.4,1356.2 1799.1,1381.6 1802.7,1403.4 1805.4,1409.4 1808.1,1418.0 1811.1,1421.8 1814.2,1426.2 1817.2,1431.6 1820.4,1428.7 1823.6,1423.4 1825.8,1411.3 1828.1,1401.6 1831.7,1392.5 1834.5,1412.5 1837.2,1448.8 1840.8,1467.0 1843.2,1471.9 1845.7,1475.4 1848.1,1477.9 1851.1,1476.2 1854.2,1478.1 1857.2,1477.0 1860.8,1467.0 1863.0,1456.4 1865.3,1448.8 1869.0,1467.0 1872.2,1469.4 1875.3,1474.2 1878.0,1477.9 1880.8,1484.2 1883.2,1473.0 1885.6,1466.1 1888.0,1455.2 1890.8,1462.0 1893.5,1470.6 1895.8,1482.8 1898.0,1492.4 1900.3,1490.1 1902.6,1485.1 1905.3,1480.4 1908.0,1477.9 1911.2,1496.4 1914.4,1512.4 1916.7,1497.7 1918.9,1485.1 1921.6,1448.8 1925.3,1427.9 1928.9,1445.2 1931.2,1463.9 1933.4,1485.1 1936.1,1505.1 1939.8,1497.9 1943.4,1487.0 1945.7,1493.0 1948.0,1496.0 1951.6,1510.6 1954.3,1512.8 1957.0,1516.9 1959.8,1520.6 1962.5,1522.4 1964.8,1516.8 1967.0,1508.8 1970.7,1474.2 1973.4,1465.2 1975.7,1475.9 1977.9,1488.8 1980.6,1499.7 1983.8,1499.3 1987.0,1501.5 1990.6,1517.8 1994.3,1530.5 1997.9,1494.2 2001.5,1461.5 2004.3,1448.8 2007.9,1467.0 2010.6,1494.2 2012.8,1498.4 2015.1,1499.7 2017.4,1501.6 2019.7,1501.5 2022.0,1511.8 2024.2,1519.6 2027.4,1521.1 2030.6,1520.5 2032.8,1523.3 2035.1,1523.3 2037.8,1527.0 2040.6,1528.7 2043.8,1524.5 2046.9,1522.4 2050.0,1524.4 2053.1,1505.7 2055.3,1502.9 2057.5,1498.3 2060.6,1505.7 2063.7,1514.5 2066.8,1497.0 2069.9,1492.0 2073.7,1498.9 2075.8,1498.2 2078.0,1500.1 2080.5,1497.2 2083.0,1491.4 2086.8,1497.0 2089.9,1512.0 2092.1,1517.5 2094.2,1521.3 2098.0,1514.5 2101.7,1487.0 2105.5,1477.1 2108.6,1483.3 2111.7,1507.0 2115.4,1514.5 2119.2,1487.0 2122.3,1465.9 2126.0,1463.4 2128.5,1478.3 2132.2,1503.2 2136.0,1508.2 2139.1,1495.5 2142.2,1484.5 2145.0,1480.9 2147.8,1475.8 2151.6,1483.3 2155.3,1495.8 2157.5,1491.5 2159.7,1484.5 2162.1,1484.7 2164.6,1482.1 2167.1,1474.1 2169.6,1468.3 2172.1,1467.3 2174.6,1468.3 2177.4,1469.9 2180.2,1473.3 2182.7,1452.1 2185.8,1439.7 2189.6,1438.4 2193.3,1447.2 2195.8,1419.8 2199.5,1417.3 2202.6,1439.7 2206.4,1449.7 2208.6,1440.4 2210.7,1433.5 2214.5,1434.7 2217.6,1458.4 2219.8,1471.5 2222.0,1482.1 2225.7,1475.8 2229.4,1452.1 2233.2,1426.0 2236.3,1432.2 2239.4,1464.6 2242.5,1495.8 2246.3,1498.3 2249.4,1477.1 2253.1,1479.6 2256.9,1508.2 2259.4,1516.5 2261.8,1521.9 2264.3,1518.9 2266.8,1518.2 2269.0,1510.5 2271.2,1504.5 2274.3,1480.8 2278.0,1469.6 2281.8,1480.8 2285.5,1492.0 2287.8,1493.2 2290.1,1490.7 2292.4,1491.4 2295.5,1499.5 2299.2,1489.5 2301.4,1483.8 2303.6,1475.8 2307.3,1488.3 2310.4,1504.5 2313.2,1506.9 2316.0,1507.0 2319.0,1506.3 2322.0,1508.0" fill="none" stroke="#c8005f" stroke-width="5.5" stroke-linejoin="round" stroke-linecap="round"/></g>
<line x1="217.8" y1="803.7" x2="117" y2="991" stroke="#ff00ff" stroke-width="5.5" stroke-dasharray="8 10.37"/>
<line x1="1356.2" y1="805.7" x2="2318" y2="989.5" stroke="#ff00ff" stroke-width="8.5" stroke-dasharray="11.5 8.94"/>
<rect x="112.0" y="30.8" width="5.0" height="787.2" fill="#000"/>
<rect x="2317.0" y="30.8" width="5.8" height="787.2" fill="#000"/>
<rect x="112.0" y="992.0" width="5.0" height="546.6" fill="#000"/>
<rect x="2317.0" y="992.0" width="5.8" height="574.0" fill="#000"/>
<rect x="2322.8" y="30.8" width="2" height="787" fill="#e4e4e4"/>
<rect x="2322.8" y="992" width="2" height="574" fill="#e4e4e4"/>
<rect x="112" y="30.8" width="2210.8" height="5.00" fill="#000"/>
<rect x="112" y="35.8" width="2210.8" height="2.50" fill="#000" fill-opacity="0.518"/>
<rect x="112" y="352.8" width="2210.8" height="2.30" fill="#000" fill-opacity="0.597"/>
<rect x="112" y="355.1" width="2210.8" height="5.70" fill="#000"/>
<rect x="112" y="799.8" width="2210.8" height="2.20" fill="#000" fill-opacity="0.644"/>
<rect x="112" y="802" width="2210.8" height="3.00" fill="#000"/>
<rect x="112" y="805" width="2210.8" height="2.00" fill="#000" fill-opacity="0.818"/>
<rect x="112" y="989" width="2210.8" height="2.80" fill="#000" fill-opacity="0.166"/>
<rect x="112" y="991.8" width="2210.8" height="5.10" fill="#000"/>
<rect x="112" y="1531" width="2210.8" height="7.60" fill="#000"/>
<rect x="249.8" y="36.0" width="5.4" height="23.5" fill="#000"/>
<rect x="387.6" y="36.0" width="5.4" height="10.5" fill="#000"/>
<rect x="525.4" y="36.0" width="5.4" height="23.5" fill="#000"/>
<rect x="663.2" y="36.0" width="5.4" height="10.5" fill="#000"/>
<rect x="801.0" y="36.0" width="5.4" height="23.5" fill="#000"/>
<rect x="938.8" y="36.0" width="5.4" height="10.5" fill="#000"/>
<rect x="1076.6" y="36.0" width="5.4" height="23.5" fill="#000"/>
<rect x="1214.5" y="36.0" width="5.4" height="10.5" fill="#000"/>
<rect x="1352.3" y="36.0" width="5.4" height="23.5" fill="#000"/>
<rect x="1490.1" y="36.0" width="5.4" height="10.5" fill="#000"/>
<rect x="1627.9" y="36.0" width="5.4" height="23.5" fill="#000"/>
<rect x="1765.7" y="36.0" width="5.4" height="10.5" fill="#000"/>
<rect x="1903.5" y="36.0" width="5.4" height="23.5" fill="#000"/>
<rect x="2041.3" y="36.0" width="5.4" height="10.5" fill="#000"/>
<rect x="2179.1" y="36.0" width="5.4" height="23.5" fill="#000"/>
<rect x="249.8" y="806.0" width="5.4" height="28.0" fill="#000"/>
<rect x="387.6" y="806.0" width="5.4" height="12.0" fill="#000"/>
<rect x="525.4" y="806.0" width="5.4" height="28.0" fill="#000"/>
<rect x="663.2" y="806.0" width="5.4" height="12.0" fill="#000"/>
<rect x="801.0" y="806.0" width="5.4" height="28.0" fill="#000"/>
<rect x="938.8" y="806.0" width="5.4" height="12.0" fill="#000"/>
<rect x="1076.6" y="806.0" width="5.4" height="28.0" fill="#000"/>
<rect x="1214.5" y="806.0" width="5.4" height="12.0" fill="#000"/>
<rect x="1352.3" y="806.0" width="5.4" height="28.0" fill="#000"/>
<rect x="1490.1" y="806.0" width="5.4" height="12.0" fill="#000"/>
<rect x="1627.9" y="806.0" width="5.4" height="28.0" fill="#000"/>
<rect x="1765.7" y="806.0" width="5.4" height="12.0" fill="#000"/>
<rect x="1903.5" y="806.0" width="5.4" height="28.0" fill="#000"/>
<rect x="2041.3" y="806.0" width="5.4" height="12.0" fill="#000"/>
<rect x="2179.1" y="806.0" width="5.4" height="28.0" fill="#000"/>
<rect x="178.6" y="996.0" width="5.4" height="31.0" fill="#000"/>
<rect x="178.6" y="1538.0" width="5.4" height="28.0" fill="#000"/>
<rect x="312.3" y="996.0" width="5.4" height="14.0" fill="#000"/>
<rect x="312.3" y="1538.0" width="5.4" height="12.0" fill="#000"/>
<rect x="446.0" y="996.0" width="5.4" height="31.0" fill="#000"/>
<rect x="446.0" y="1538.0" width="5.4" height="28.0" fill="#000"/>
<rect x="579.6" y="996.0" width="5.4" height="14.0" fill="#000"/>
<rect x="579.6" y="1538.0" width="5.4" height="12.0" fill="#000"/>
<rect x="713.3" y="996.0" width="5.4" height="31.0" fill="#000"/>
<rect x="713.3" y="1538.0" width="5.4" height="28.0" fill="#000"/>
<rect x="847.0" y="996.0" width="5.4" height="14.0" fill="#000"/>
<rect x="847.0" y="1538.0" width="5.4" height="12.0" fill="#000"/>
<rect x="980.7" y="996.0" width="5.4" height="31.0" fill="#000"/>
<rect x="980.7" y="1538.0" width="5.4" height="28.0" fill="#000"/>
<rect x="1114.3" y="996.0" width="5.4" height="14.0" fill="#000"/>
<rect x="1114.3" y="1538.0" width="5.4" height="12.0" fill="#000"/>
<rect x="1248.0" y="996.0" width="5.4" height="31.0" fill="#000"/>
<rect x="1248.0" y="1538.0" width="5.4" height="28.0" fill="#000"/>
<rect x="1381.7" y="996.0" width="5.4" height="14.0" fill="#000"/>
<rect x="1381.7" y="1538.0" width="5.4" height="12.0" fill="#000"/>
<rect x="1515.3" y="996.0" width="5.4" height="31.0" fill="#000"/>
<rect x="1515.3" y="1538.0" width="5.4" height="28.0" fill="#000"/>
<rect x="1649.0" y="996.0" width="5.4" height="14.0" fill="#000"/>
<rect x="1649.0" y="1538.0" width="5.4" height="12.0" fill="#000"/>
<rect x="1782.7" y="996.0" width="5.4" height="31.0" fill="#000"/>
<rect x="1782.7" y="1538.0" width="5.4" height="28.0" fill="#000"/>
<rect x="1916.3" y="996.0" width="5.4" height="14.0" fill="#000"/>
<rect x="1916.3" y="1538.0" width="5.4" height="12.0" fill="#000"/>
<rect x="2050.0" y="996.0" width="5.4" height="31.0" fill="#000"/>
<rect x="2050.0" y="1538.0" width="5.4" height="28.0" fill="#000"/>
<rect x="2183.7" y="996.0" width="5.4" height="14.0" fill="#000"/>
<rect x="2183.7" y="1538.0" width="5.4" height="12.0" fill="#000"/>
<text transform="translate(251.0,899.7) scale(1,1.058)" font-family="'Liberation Sans', Arial, sans-serif" font-size="60" text-anchor="middle" fill="#000">24</text>
<text transform="translate(526.6,899.7) scale(1,1.058)" font-family="'Liberation Sans', Arial, sans-serif" font-size="60" text-anchor="middle" fill="#000">28</text>
<text transform="translate(802.2,899.7) scale(1,1.058)" font-family="'Liberation Sans', Arial, sans-serif" font-size="60" text-anchor="middle" fill="#000">32</text>
<text transform="translate(1077.8,899.7) scale(1,1.058)" font-family="'Liberation Sans', Arial, sans-serif" font-size="60" text-anchor="middle" fill="#000">36</text>
<text transform="translate(1353.5,899.7) scale(1,1.058)" font-family="'Liberation Sans', Arial, sans-serif" font-size="60" text-anchor="middle" fill="#000">40</text>
<text transform="translate(1629.1,899.7) scale(1,1.058)" font-family="'Liberation Sans', Arial, sans-serif" font-size="60" text-anchor="middle" fill="#000">44</text>
<text transform="translate(1904.7,899.7) scale(1,1.058)" font-family="'Liberation Sans', Arial, sans-serif" font-size="60" text-anchor="middle" fill="#000">48</text>
<text transform="translate(2180.3,899.7) scale(1,1.058)" font-family="'Liberation Sans', Arial, sans-serif" font-size="60" text-anchor="middle" fill="#000">52</text>
<text x="180.5" y="1636" font-family="'Liberation Sans', Arial, sans-serif" font-size="64.5" text-anchor="middle" fill="#000">24</text>
<text x="447.9" y="1636" font-family="'Liberation Sans', Arial, sans-serif" font-size="64.5" text-anchor="middle" fill="#000">26</text>
<text x="715.2" y="1636" font-family="'Liberation Sans', Arial, sans-serif" font-size="64.5" text-anchor="middle" fill="#000">28</text>
<text x="982.6" y="1636" font-family="'Liberation Sans', Arial, sans-serif" font-size="64.5" text-anchor="middle" fill="#000">30</text>
<text x="1249.9" y="1636" font-family="'Liberation Sans', Arial, sans-serif" font-size="64.5" text-anchor="middle" fill="#000">32</text>
<text x="1517.2" y="1636" font-family="'Liberation Sans', Arial, sans-serif" font-size="64.5" text-anchor="middle" fill="#000">34</text>
<text x="1784.6" y="1636" font-family="'Liberation Sans', Arial, sans-serif" font-size="64.5" text-anchor="middle" fill="#000">36</text>
<text x="2051.9" y="1636" font-family="'Liberation Sans', Arial, sans-serif" font-size="64.5" text-anchor="middle" fill="#000">38</text>
<text x="2319.3" y="1636" font-family="'Liberation Sans', Arial, sans-serif" font-size="64.5" text-anchor="middle" fill="#000">40</text>
<text x="1804" y="122.9" font-family="'Liberation Sans', Arial, sans-serif" font-size="60" font-weight="bold" fill="#10c83a">Monoclinic HfO</text>
<text x="2244" y="138" font-family="'Liberation Sans', Arial, sans-serif" font-size="41" font-weight="bold" fill="#10c83a">2</text>
<text x="1808.6" y="436.7" font-family="'Liberation Sans', Arial, sans-serif" font-size="60" font-weight="bold" fill="#c8005f">M2-530-3</text>
<text y="1706.2" font-family="'Liberation Sans', Arial, sans-serif" font-size="64" fill="#000"><tspan x="1114" font-weight="bold">2</tspan><tspan x="1151">θ</tspan><tspan x="1205.5">(</tspan><tspan x="1228.8" font-weight="bold">de</tspan><tspan x="1306.8" font-weight="bold">g</tspan><tspan x="1348">)</tspan></text>
<text transform="translate(70.9,1189.5) rotate(-90)" font-family="'Liberation Sans', Arial, sans-serif" font-size="60.6" font-weight="bold" fill="#000">XRD Intensity <tspan font-weight="normal">(</tspan>Cps.<tspan font-weight="normal">)</tspan></text>
<text transform="translate(542.5,1253.5) rotate(-90)" font-family="'Liberation Sans', Arial, sans-serif" font-size="60" font-weight="bold" fill="#0000ff">SiGeSn</text>
<rect x="553.3" y="1040.3" width="5.4" height="236" fill="#0000ff"/>
<polygon points="545,1273.6 566.7,1273.6 556,1319" fill="#0000ff"/>
<ellipse cx="545.9" cy="1419" rx="62.6" ry="90" fill="none" stroke="#0000ff" stroke-width="3.5"/>
</svg></body></html>
